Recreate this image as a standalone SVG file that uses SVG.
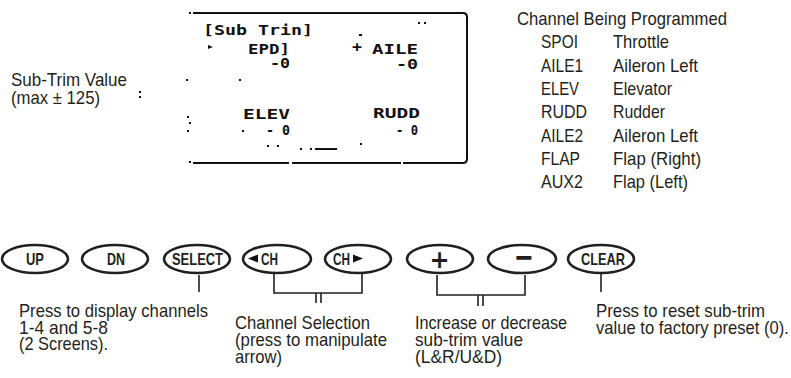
<svg xmlns="http://www.w3.org/2000/svg" width="791" height="378" viewBox="0 0 791 378">
<style>
.lbl{font-family:"Liberation Sans Narrow","Liberation Sans",Arial,sans-serif;font-size:19px;fill:#231f20}
.btn{fill:#fff;stroke:#231f20;stroke-width:2.6}
.bt{font-family:"Liberation Sans Narrow","Liberation Sans",Arial,sans-serif;font-weight:bold;font-size:17px;fill:#231f20;text-anchor:middle}
.lcd{font-family:"DejaVu Sans Mono","Liberation Mono",monospace;font-weight:bold;font-size:14px;fill:#111}
.ln{fill:none;stroke:#231f20;stroke-width:1.6}
.px{fill:#111}
</style>
<rect width="791" height="378" fill="#fff"/>
<g id="lcd-screen">
<path d="M193 13 H463 Q467 13 467 17 V159 Q467 163 463 163 H403 M401 163 H292 M289 163 H193" fill="none" stroke="#111" stroke-width="2"/>
<rect class="px" x="189" y="12" width="2" height="2"/>
<rect class="px" x="189" y="161" width="2" height="2"/>
<text class="lcd" x="203" y="35" textLength="110" lengthAdjust="spacingAndGlyphs">[Sub Trin]</text>
<polygon class="px" points="208,45 213,47 208,49"/>
<text class="lcd" x="248" y="54" textLength="42" lengthAdjust="spacingAndGlyphs">EPD]</text>
<text class="lcd" x="270" y="68" textLength="20" lengthAdjust="spacingAndGlyphs">-0</text>
<text class="lcd" x="352" y="52" textLength="10" lengthAdjust="spacingAndGlyphs">+</text>
<rect class="px" x="359" y="34" width="3" height="2"/>
<text class="lcd" x="372" y="54" textLength="46" lengthAdjust="spacingAndGlyphs">AILE</text>
<text class="lcd" x="396" y="69" textLength="22" lengthAdjust="spacingAndGlyphs">-0</text>
<rect class="px" x="418" y="22" width="2" height="2"/>
<rect class="px" x="424" y="22" width="2" height="2"/>
<rect class="px" x="186" y="79" width="2" height="2"/>
<rect class="px" x="239" y="79" width="2" height="2"/>
<text class="lcd" x="243" y="119" textLength="47" lengthAdjust="spacingAndGlyphs">ELEV</text>
<text class="lcd" x="266" y="135" textLength="24" lengthAdjust="spacingAndGlyphs">- 0</text>
<text class="lcd" x="373" y="118" textLength="47" lengthAdjust="spacingAndGlyphs">RUDD</text>
<text class="lcd" x="396" y="135" textLength="22" lengthAdjust="spacingAndGlyphs">- 0</text>
<rect class="px" x="187" y="116" width="2" height="2"/>
<rect class="px" x="189" y="122" width="2" height="2"/>
<rect class="px" x="187" y="130" width="2" height="2"/>
<rect class="px" x="242" y="130" width="2" height="2"/>
<rect class="px" x="267" y="145" width="2" height="2"/>
<rect class="px" x="277" y="145" width="2" height="2"/>
<rect class="px" x="300" y="148" width="2" height="2"/>
<rect class="px" x="310" y="148" width="2" height="2"/>
<rect class="px" x="315" y="148" width="22" height="2"/>
<rect class="px" x="360" y="143" width="2" height="2"/>
<rect class="px" x="139" y="91" width="2" height="2"/>
<rect class="px" x="139" y="96" width="2" height="2"/>
</g>
<g id="subtrim-label">
<text class="lbl" x="11" y="86" textLength="116" lengthAdjust="spacingAndGlyphs">Sub-Trim Value</text>
<text class="lbl" x="11" y="104" textLength="89" lengthAdjust="spacingAndGlyphs">(max ± 125)</text>
</g>
<g id="channel-list">
<text class="lbl" x="517" y="25" textLength="210" lengthAdjust="spacingAndGlyphs">Channel Being Programmed</text>
<text class="lbl" x="541" y="48.3" textLength="37" lengthAdjust="spacingAndGlyphs">SPOI</text>
<text class="lbl" x="613" y="48.3" textLength="56" lengthAdjust="spacingAndGlyphs">Throttle</text>
<text class="lbl" x="541" y="71.6" textLength="42" lengthAdjust="spacingAndGlyphs">AILE1</text>
<text class="lbl" x="613" y="71.6" textLength="85" lengthAdjust="spacingAndGlyphs">Aileron Left</text>
<text class="lbl" x="541" y="94.9" textLength="38" lengthAdjust="spacingAndGlyphs">ELEV</text>
<text class="lbl" x="613" y="94.9" textLength="59" lengthAdjust="spacingAndGlyphs">Elevator</text>
<text class="lbl" x="541" y="118.2" textLength="46" lengthAdjust="spacingAndGlyphs">RUDD</text>
<text class="lbl" x="613" y="118.2" textLength="52" lengthAdjust="spacingAndGlyphs">Rudder</text>
<text class="lbl" x="541" y="141.5" textLength="42" lengthAdjust="spacingAndGlyphs">AILE2</text>
<text class="lbl" x="613" y="141.5" textLength="85" lengthAdjust="spacingAndGlyphs">Aileron Left</text>
<text class="lbl" x="541" y="164.8" textLength="39" lengthAdjust="spacingAndGlyphs">FLAP</text>
<text class="lbl" x="613" y="164.8" textLength="88" lengthAdjust="spacingAndGlyphs">Flap (Right)</text>
<text class="lbl" x="541" y="188.1" textLength="42" lengthAdjust="spacingAndGlyphs">AUX2</text>
<text class="lbl" x="613" y="188.1" textLength="75" lengthAdjust="spacingAndGlyphs">Flap (Left)</text>
</g>
<g id="btn-up"><ellipse class="btn" cx="35" cy="259" rx="33" ry="14"/><text class="bt" x="35" y="265" textLength="18" lengthAdjust="spacingAndGlyphs">UP</text></g>
<g id="btn-dn"><ellipse class="btn" cx="115" cy="259" rx="33" ry="14"/><text class="bt" x="116" y="265" textLength="18" lengthAdjust="spacingAndGlyphs">DN</text></g>
<g id="btn-select"><ellipse class="btn" cx="197" cy="259" rx="33" ry="14"/><text class="bt" x="197.5" y="265" textLength="51" lengthAdjust="spacingAndGlyphs">SELECT</text></g>
<g id="btn-chl"><ellipse class="btn" cx="277" cy="259" rx="34" ry="14"/><polygon class="px" points="248,258.5 258,254.5 258,262.5"/><text class="bt" x="269.5" y="265" textLength="17" lengthAdjust="spacingAndGlyphs">CH</text></g>
<g id="btn-chr"><ellipse class="btn" cx="358" cy="259" rx="33" ry="14"/><text class="bt" x="341.5" y="265" textLength="17" lengthAdjust="spacingAndGlyphs">CH</text><polygon class="px" points="363,258.5 353,254.5 353,262.5"/></g>
<g id="btn-plus"><ellipse class="btn" cx="440" cy="259" rx="33" ry="14"/><text class="bt" x="439.5" y="267.5" style="font-family:'DejaVu Sans',sans-serif;font-size:24px">+</text></g>
<g id="btn-minus"><ellipse class="btn" cx="522" cy="259" rx="34" ry="14"/><text class="bt" x="524" y="267.5" style="font-family:'DejaVu Sans',sans-serif;font-size:32px" textLength="20" lengthAdjust="spacingAndGlyphs">−</text></g>
<g id="btn-clear"><ellipse class="btn" cx="601" cy="259" rx="33" ry="14"/><text class="bt" x="603" y="265" textLength="44" lengthAdjust="spacingAndGlyphs">CLEAR</text></g>
<g id="connectors">
<path class="ln" d="M199 275 V292"/>
<path class="ln" d="M274 273 V293 H362 V273 M316 293 V303 M321 293 V303"/>
<path class="ln" d="M437 275 V295 H525 V275 M478 295 V306 M483 295 V306"/>
<path class="ln" d="M601 273 V292"/>
</g>
<g id="desc-select">
<text class="lbl" x="19" y="317" textLength="189" lengthAdjust="spacingAndGlyphs">Press to display channels</text>
<text class="lbl" x="19" y="333.5" textLength="89" lengthAdjust="spacingAndGlyphs">1-4 and 5-8</text>
<text class="lbl" x="19" y="350" textLength="89" lengthAdjust="spacingAndGlyphs">(2 Screens).</text>
</g>
<g id="desc-channel">
<text class="lbl" x="235" y="329" textLength="135" lengthAdjust="spacingAndGlyphs">Channel Selection</text>
<text class="lbl" x="235" y="346" textLength="152" lengthAdjust="spacingAndGlyphs">(press to manipulate</text>
<text class="lbl" x="235" y="363" textLength="47" lengthAdjust="spacingAndGlyphs">arrow)</text>
</g>
<g id="desc-value">
<text class="lbl" x="415" y="329" textLength="152" lengthAdjust="spacingAndGlyphs">Increase or decrease</text>
<text class="lbl" x="415" y="346" textLength="108" lengthAdjust="spacingAndGlyphs">sub-trim value</text>
<text class="lbl" x="415" y="363" textLength="87" lengthAdjust="spacingAndGlyphs">(L&amp;R/U&amp;D)</text>
</g>
<g id="desc-clear">
<text class="lbl" x="596" y="317" textLength="169" lengthAdjust="spacingAndGlyphs">Press to reset sub-trim</text>
<text class="lbl" x="596" y="333.5" textLength="193" lengthAdjust="spacingAndGlyphs">value to factory preset (0).</text>
</g>
</svg>
